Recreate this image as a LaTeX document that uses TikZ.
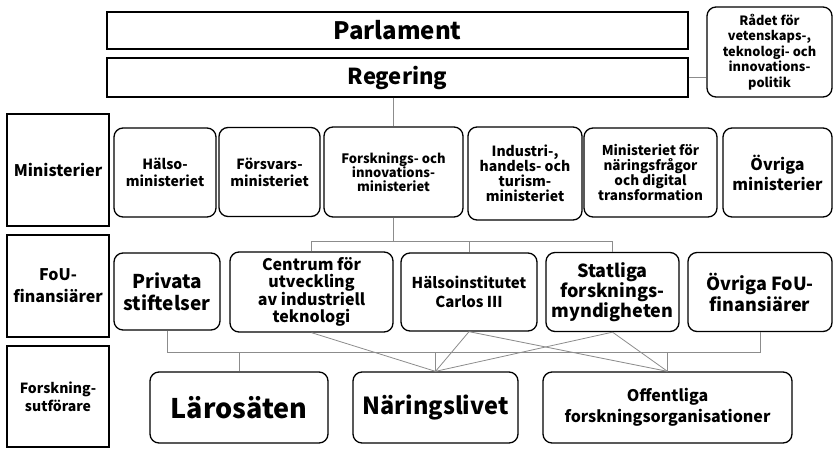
\documentclass[tikz,border=0pt]{standalone}
\usepackage{fontspec}
\setmainfont{Noto Sans CJK JP}
\usepackage{tikz}
\usetikzlibrary{positioning,calc}
\tikzstyle{block} = [rectangle, draw, line width=1.3pt, rounded corners=9pt, align=center, inner sep=1pt]
\tikzstyle{bar} = [rectangle, draw, line width=1.3pt, minimum width=581pt]
\tikzstyle{level} = [rectangle, draw, line width=1.3pt, minimum width=102pt, align=center, inner sep=1pt]
\tikzstyle{link} = [draw, black!45, line width=0.8pt]
\newcommand{\fsz}[2]{\fontsize{#1}{#2}\selectfont\bfseries}

\begin{document}
\begin{tikzpicture}[x=1pt, y=-1pt]
        \useasboundingbox (0,0) rectangle (833,448);
        % Top
        \node [bar, minimum height=37pt, font=\fsz{24}{27}] (parl) at (397.5,30.5) {Parlament};
        \node [bar, minimum height=39pt, font=\fsz{22}{25}] (reg) at (397.5,77.5) {Regering};
        \node [block, minimum width=125pt, minimum height=90pt, font=\fsz{12.8}{15.5}] (council) at (769.5,52) {Rådet för\\vetenskaps-,\\teknologi- och\\innovations-\\politik};

        % Row labels
        \node [level, minimum height=112pt, font=\fsz{16}{20}] (lblmin) at (58,170) {Ministerier};
        \node [level, minimum height=102pt, font=\fsz{16}{22}] (lblfou) at (58,286) {FoU-\\finansiärer};
        \node [level, minimum height=101pt, font=\fsz{14}{18}] (lblutf) at (58,396.5) {Forskning-\\sutförare};

        % Ministries
        \node [block, minimum width=102pt, minimum height=89pt, font=\fsz{14}{17}] (halso) at (165,172.5) {Hälso-\\ministeriet};
        \node [block, minimum width=101pt, minimum height=89pt, font=\fsz{14}{17}] (forsvar) at (269.5,172) {Försvars-\\ministeriet};
        \node [block, minimum width=139pt, minimum height=90pt, font=\fsz{13}{14}] (forskmin) at (393.5,172) {Forsknings- och\\innovations-\\ministeriet};
        \node [block, minimum width=114pt, minimum height=93pt, font=\fsz{14}{15}] (industri) at (525,173.5) {Industri-,\\handels- och\\turism-\\ministeriet};
        \node [block, minimum width=133pt, minimum height=89pt, font=\fsz{13.5}{15}] (naring) at (650.5,172.5) {Ministeriet för\\näringsfrågor\\och digital\\transformation};
        \node [block, minimum width=109pt, minimum height=89pt, font=\fsz{16}{20}] (ovrmin) at (777.5,172.5) {Övriga\\ministerier};

        % Funders
        \node [block, minimum width=106pt, minimum height=77pt, font=\fsz{19}{22}] (privata) at (167,291.5) {Privata\\stiftelser};
        \node [block, minimum width=163pt, minimum height=80pt, font=\fsz{16}{17}] (centrum) at (311.5,292) {Centrum för\\utveckling\\av industriell\\teknologi};
        \node [block, minimum width=136pt, minimum height=78pt, font=\fsz{15}{19}] (halsoinst) at (469,292) {Hälsoinstitutet\\Carlos III};
        \node [block, minimum width=133pt, minimum height=79pt, font=\fsz{18}{19}] (statliga) at (612.5,292) {Statliga\\forsknings-\\myndigheten};
        \node [block, minimum width=144pt, minimum height=79pt, font=\fsz{18}{21}] (ovrfou) at (760,292) {Övriga FoU-\\finansiärer};

        % Performers
        \node [block, minimum width=178pt, minimum height=71pt, font=\fsz{27}{30}] (laro) at (239,407.5) {Lärosäten};
        \node [block, minimum width=165pt, minimum height=71pt, font=\fsz{23.5}{26}] (naringsliv) at (435.5,407.5) {Näringslivet};
        \node [block, minimum width=249pt, minimum height=71pt, font=\fsz{16}{21}] (offentl) at (667.5,407.5) {Offentliga\\forskningsorganisationer};

        % Paths
        \coordinate (fsplit) at (393.5,241);
        \coordinate (ubus) at (0,352);
        \path [link] (reg.east) -- (reg.east -| council.west);
        \path [link] (forskmin.north |- reg.south) -- (forskmin.north);
        \path [link] (forskmin.south) -- (fsplit);
        \path [link] (centrum.north) -- (centrum.north |- fsplit) -- (statliga.north |- fsplit) -- (statliga.north);
        \path [link] (halsoinst.north |- fsplit) -- (halsoinst.north);
        \path [link] (privata.south) -- (privata.south |- ubus) -- (ovrfou.south |- ubus) -- (ovrfou.south);
        \path [link] (laro.north |- ubus) -- (laro.north);
        \path [link] (naringsliv.north |- ubus) -- (naringsliv.north);
        \path [link] (offentl.north |- ubus) -- (offentl.north);
        \path [link] (centrum.south) -- (naringsliv.north);
        \path [link] (halsoinst.south) -- (naringsliv.north);
        \path [link] (halsoinst.south) -- (offentl.north);
        \path [link] (statliga.south) -- (naringsliv.north);
        \path [link] (statliga.south) -- (offentl.north);
    \end{tikzpicture}
\end{document}
